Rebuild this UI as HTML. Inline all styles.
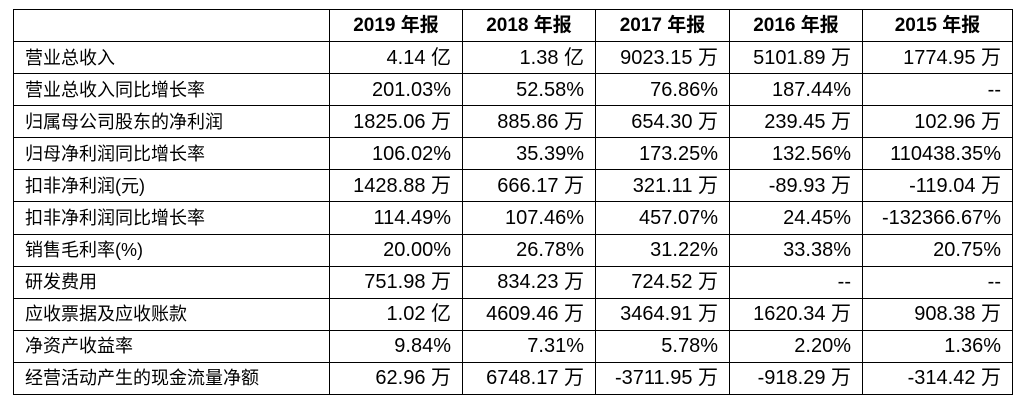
<!DOCTYPE html>
<html><head><meta charset="utf-8"><style>
html,body{margin:0;padding:0;background:#fff;width:1036px;height:406px;overflow:hidden}
table{position:absolute;left:13px;top:9px;width:999px;height:386px;border-collapse:collapse;table-layout:fixed;font-family:"Liberation Sans","Noto Sans CJK SC",sans-serif;font-size:20px;color:#000}
td{border:1px solid #000;height:32px;padding:0 11px 0 11px;text-align:right;white-space:nowrap;box-sizing:border-box;line-height:20px}
td:first-child{text-align:left;font-size:18px}
tr.h td{font-weight:bold;text-align:center;font-size:19px}
</style></head><body>
<table>
<colgroup><col style="width:316px"><col style="width:133px"><col style="width:133px"><col style="width:134px"><col style="width:133px"><col style="width:150px"></colgroup>
<tr class="h"><td></td><td>2019 年报</td><td>2018 年报</td><td>2017 年报</td><td>2016 年报</td><td>2015 年报</td></tr>
<tr><td>营业总收入</td><td>4.14 亿</td><td>1.38 亿</td><td>9023.15 万</td><td>5101.89 万</td><td>1774.95 万</td></tr>
<tr><td>营业总收入同比增长率</td><td>201.03%</td><td>52.58%</td><td>76.86%</td><td>187.44%</td><td>--</td></tr>
<tr><td>归属母公司股东的净利润</td><td>1825.06 万</td><td>885.86 万</td><td>654.30 万</td><td>239.45 万</td><td>102.96 万</td></tr>
<tr><td>归母净利润同比增长率</td><td>106.02%</td><td>35.39%</td><td>173.25%</td><td>132.56%</td><td>110438.35%</td></tr>
<tr><td>扣非净利润(元)</td><td>1428.88 万</td><td>666.17 万</td><td>321.11 万</td><td>-89.93 万</td><td>-119.04 万</td></tr>
<tr><td>扣非净利润同比增长率</td><td>114.49%</td><td>107.46%</td><td>457.07%</td><td>24.45%</td><td>-132366.67%</td></tr>
<tr><td>销售毛利率(%)</td><td>20.00%</td><td>26.78%</td><td>31.22%</td><td>33.38%</td><td>20.75%</td></tr>
<tr><td>研发费用</td><td>751.98 万</td><td>834.23 万</td><td>724.52 万</td><td>--</td><td>--</td></tr>
<tr><td>应收票据及应收账款</td><td>1.02 亿</td><td>4609.46 万</td><td>3464.91 万</td><td>1620.34 万</td><td>908.38 万</td></tr>
<tr><td>净资产收益率</td><td>9.84%</td><td>7.31%</td><td>5.78%</td><td>2.20%</td><td>1.36%</td></tr>
<tr><td>经营活动产生的现金流量净额</td><td>62.96 万</td><td>6748.17 万</td><td>-3711.95 万</td><td>-918.29 万</td><td>-314.42 万</td></tr>
</table>
</body></html>
